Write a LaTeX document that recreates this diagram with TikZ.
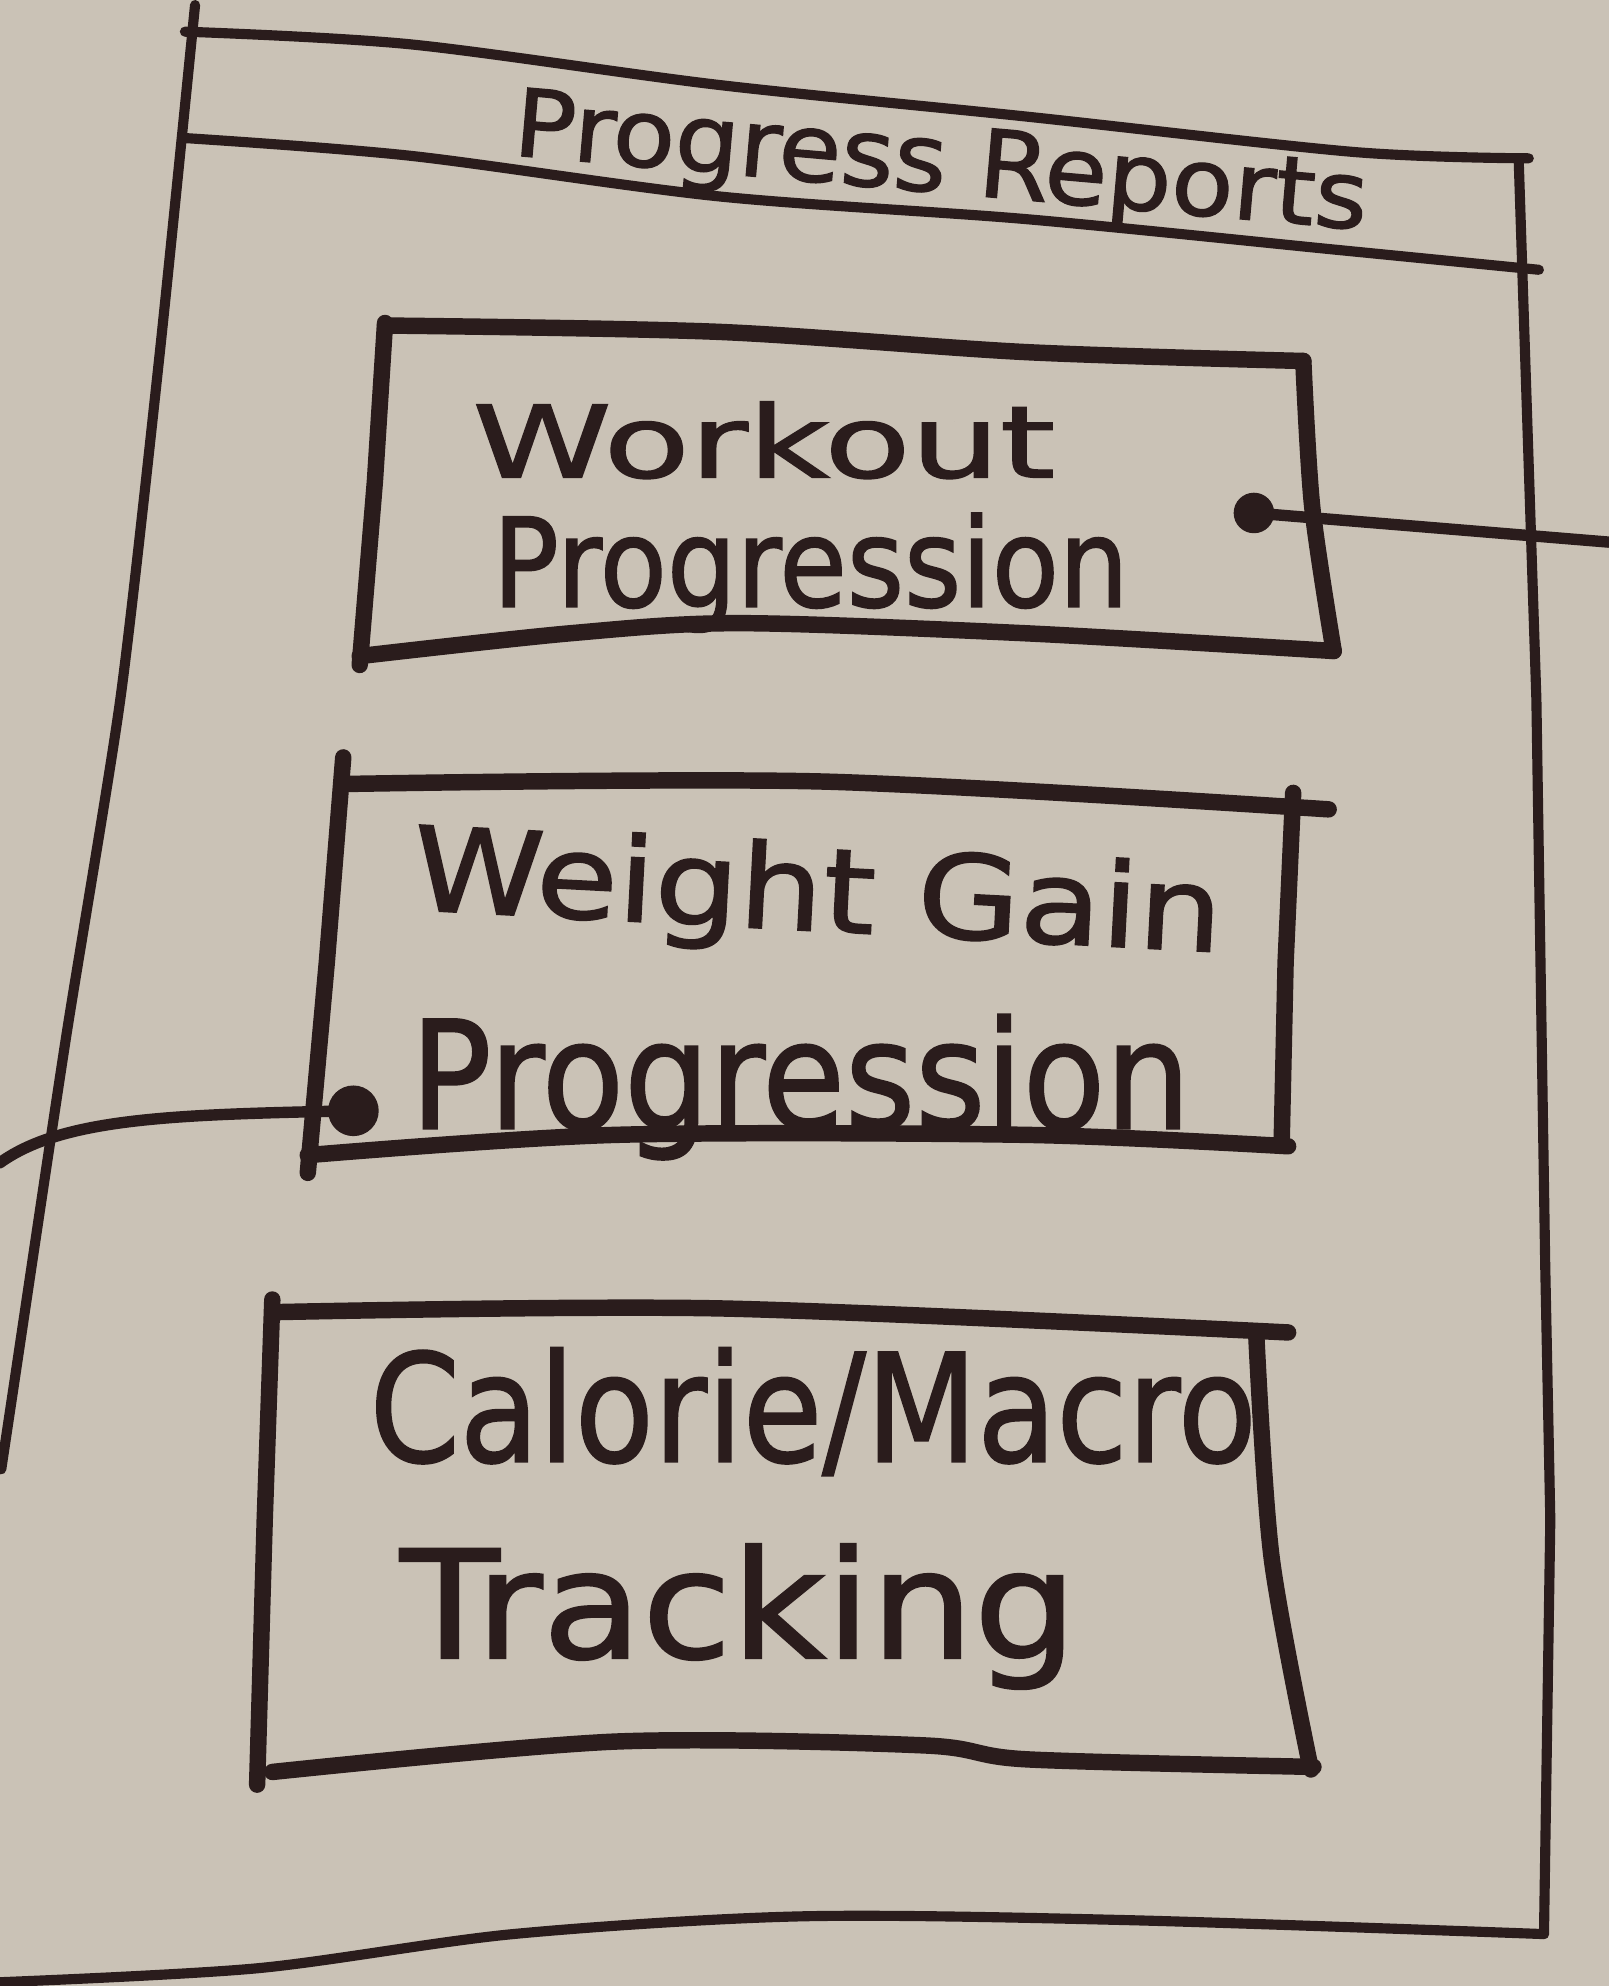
\documentclass[tikz,border=0pt]{standalone}
\usepackage{fontspec}
\usepackage{graphicx}
\setmainfont{DejaVu Sans}
\newfontfamily\handfont[FakeBold=1.4]{DejaVu Sans}
\definecolor{paper}{HTML}{CAC2B6}
\definecolor{ink}{HTML}{2A1C1C}
% hand-lettered label stretched to a given width and height (in pt)
\newcommand{\hand}[3]{\resizebox{#1pt}{#2pt}{\handfont #3}}

\begin{document}
\begin{tikzpicture}[x=0.5pt,y=-0.5pt,
  inkline/.style={draw=ink, line cap=round, line join=round},
  frame/.style={inkline, line width=4pt},
  boxline/.style={inkline, line width=6.5pt},
  wire/.style={inkline, line width=4.5pt},
  label/.style={text=ink, inner sep=0pt, anchor=base},
  pin/.style={circle, fill=ink, inner sep=0pt}]

\fill[paper] (0,0) rectangle (1270,1568);
\useasboundingbox (0,0) rectangle (1270,1568);

% outer frame with its title band
\draw[frame] plot[smooth] coordinates {(146,25) (324,35) (567,67) (810,92) (1069,120) (1207,125)};
\draw[frame] plot[smooth] coordinates {(146,109) (324,123) (567,155) (810,173) (1053,197) (1215,213)};
\draw[frame] plot[smooth, tension=0.4] coordinates {(154,4) (126,280) (95,552) (52,820) (10,1100) (1,1160)};
\draw[frame] (1199,125) -- (1213,552) -- (1220,1000) -- (1224,1200) -- (1219,1527);
\draw[frame] plot[smooth] coordinates {(0,1565) (203,1554) (405,1527) (632,1513) (891,1516) (1219,1527)};

\node[label, rotate=-5] (title) at (741,152) {\hand{338}{27}{Progress Reports}};

% box: workout progression
\draw[boxline] plot[smooth] coordinates {(304,257) (567,262) (810,278) (1029,285)};
\draw[boxline] (304,255) -- (296,380) -- (284,525);
\draw[boxline] plot[smooth] coordinates {(1029,285) (1036,400) (1053,514)};
\draw[boxline] plot[smooth] coordinates {(284,518) (450,500) (583,492) (810,500) (1053,514)};
\node[label] (wkout) at (603,377) {\hand{230}{30}{Workout}};
\node[label] (wkprog) at (640,479) {\hand{251}{37}{Progression}};

% box: weight gain progression
\draw[boxline] plot[smooth] coordinates {(271,619) (648,617) (1049,639)};
\draw[boxline] (271,598) -- (258,760) -- (243,926);
\draw[boxline] (1021,626) -- (1015,760) -- (1012,898);
\draw[boxline] plot[smooth] coordinates {(243,912) (486,896) (810,896) (1017,905)};
\node[label, rotate=-3] (wgain) at (644,735) {\hand{320}{35}{Weight Gain}};
\node[label] (wgprog) at (632,891) {\hand{308}{45}{Progression}};

% box: calorie / macro tracking
\draw[boxline] plot[smooth] coordinates {(215,1036) (567,1033) (1017,1052)};
\draw[boxline] (215,1026) -- (209,1200) -- (203,1409);
\draw[boxline] plot[smooth] coordinates {(992,1057) (1004,1230) (1035,1397)};
\draw[boxline] plot[smooth] coordinates {(215,1399) (486,1375) (729,1378) (810,1389) (1037,1395)};
\node[label] (calmac) at (642,1154) {\hand{350}{45}{Calorie/Macro}};
\node[label] (track) at (583,1309) {\hand{267}{45}{Tracking}};

% connection points and their wires
\node[pin, minimum size=16pt] (d1) at (990,405) {};
\coordinate (e1) at (1270,428);
\draw[wire] (d1.center) -- (e1);

\node[pin, minimum size=20pt] (d2) at (279,877) {};
\coordinate (e2) at (0,918);
\draw[wire] (d2.center) .. controls (140,880) and (50,882) .. (e2);

\end{tikzpicture}
\end{document}
